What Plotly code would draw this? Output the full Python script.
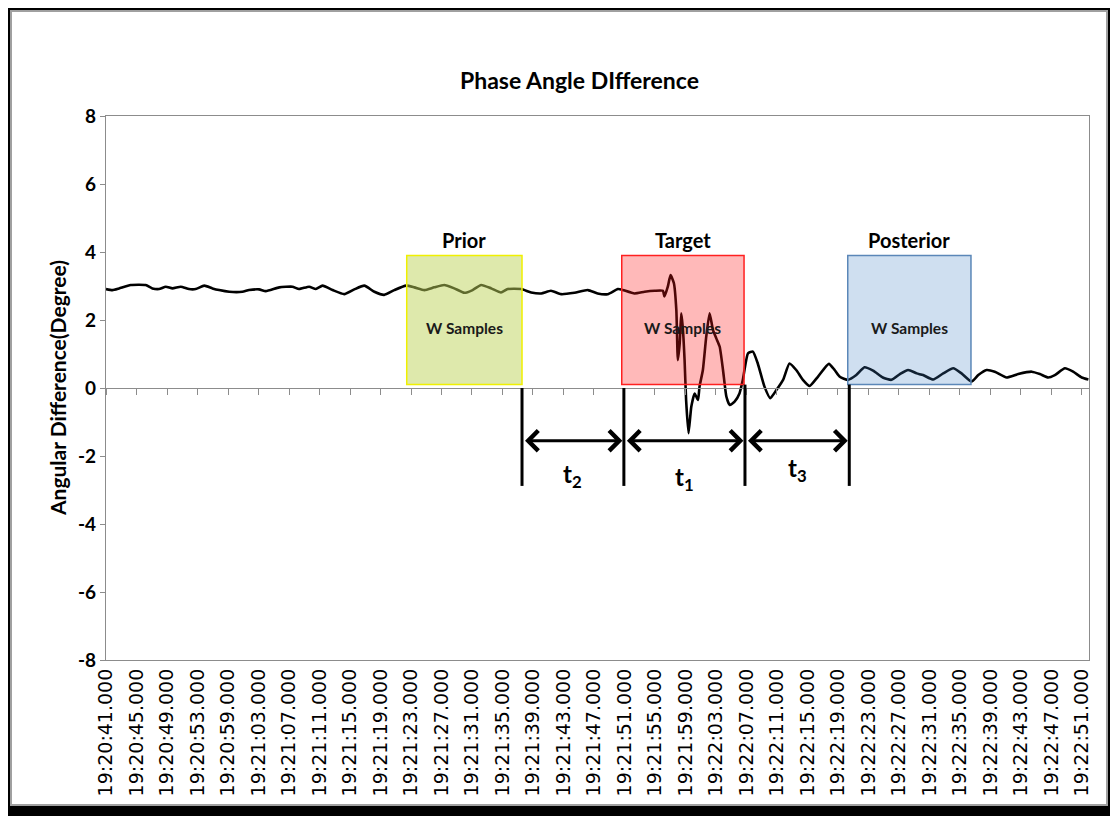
import plotly.graph_objects as go

# ---------------- data ----------------
time_labels = ["19:20:41.000", "19:20:45.000", "19:20:49.000", "19:20:53.000", "19:20:59.000",
               "19:21:03.000", "19:21:07.000", "19:21:11.000", "19:21:15.000", "19:21:19.000",
               "19:21:23.000", "19:21:27.000", "19:21:31.000", "19:21:35.000", "19:21:39.000",
               "19:21:43.000", "19:21:47.000", "19:21:51.000", "19:21:55.000", "19:21:59.000",
               "19:22:03.000", "19:22:07.000", "19:22:11.000", "19:22:15.000", "19:22:19.000",
               "19:22:23.000", "19:22:27.000", "19:22:31.000", "19:22:35.000", "19:22:39.000",
               "19:22:43.000", "19:22:47.000", "19:22:51.000"]
label_pos = list(range(len(time_labels)))

y_tick_vals = [-8, -6, -4, -2, 0, 2, 4, 6, 8]
y_tick_text = ["-8", "-6", "-4", "-2", "0", "2", "4", "6", "8"]

# sample position (in label-interval units) and phase angle difference (degrees)
sample_pos = [0.00, 0.21, 0.43, 0.81, 1.30, 1.52, 1.74, 1.96, 2.18, 2.45, 2.72, 2.94, 3.22, 3.49,
              3.71, 4.04, 4.47, 4.69, 5.02, 5.24, 5.68, 6.11, 6.33, 6.66, 6.88, 7.10, 7.43, 7.81,
              8.14, 8.47, 8.80, 9.12, 9.45, 9.84, 10.11, 10.44, 10.76, 11.09, 11.42, 11.75, 12.02,
              12.30, 12.63, 12.95, 13.17, 13.61, 13.94, 14.27, 14.59, 14.92, 15.36, 15.80, 16.12,
              16.45, 16.78, 16.89, 17.33, 17.66, 17.99, 18.26, 18.31, 18.42, 18.51, 18.62, 18.70,
              18.75, 18.81, 18.86, 18.91, 18.97, 19.02, 19.10, 19.19, 19.30, 19.41, 19.46, 19.57,
              19.68, 19.79, 19.90, 20.01, 20.12, 20.23, 20.34, 20.45, 20.61, 20.77, 20.88, 21.05,
              21.21, 21.37, 21.59, 21.78, 21.98, 22.20, 22.41, 22.63, 22.85, 23.07, 23.34, 23.70,
              23.89, 24.06, 24.33, 24.60, 24.87, 25.15, 25.47, 25.75, 26.03, 26.30, 26.58, 26.79,
              27.12, 27.45, 27.78, 28.05, 28.38, 28.60, 28.87, 29.14, 29.53, 29.91, 30.35, 30.62,
              30.89, 31.11, 31.44, 31.71, 31.99, 32.21]
angle_deg = [2.91, 2.88, 2.93, 3.03, 3.03, 2.93, 2.91, 2.98, 2.93, 2.98, 2.91, 2.91, 3.01, 2.93,
             2.88, 2.83, 2.83, 2.88, 2.90, 2.85, 2.96, 2.98, 2.91, 2.98, 2.91, 3.01, 2.88, 2.76,
             2.90, 3.01, 2.83, 2.74, 2.88, 3.01, 2.96, 2.88, 2.96, 3.03, 2.93, 2.80, 2.88,
             3.03, 2.93, 2.81, 2.91, 2.91, 2.81, 2.78, 2.86, 2.76, 2.80, 2.88, 2.78,
             2.76, 2.91, 2.90, 2.78, 2.83, 2.86, 2.86, 2.69, 2.98, 3.32, 3.08, 2.29,
             0.82, 1.31, 2.20, 1.80, 0.82, -0.35, -1.33, -0.55, -0.16, -0.35, 0.04, 0.53,
             1.51, 2.20, 1.71, 1.46, 1.22, 0.53, -0.25, -0.50, -0.40, -0.16, 0.24, 1.02,
             1.07, 0.72, 0.04, -0.30, -0.06, 0.24, 0.72, 0.53, 0.24, 0.06, 0.33, 0.71,
             0.53, 0.33, 0.24, 0.38, 0.61, 0.51, 0.31, 0.24, 0.41, 0.53, 0.43, 0.38,
             0.25, 0.43, 0.58, 0.43, 0.19, 0.38, 0.53, 0.48, 0.31, 0.41, 0.48, 0.41,
             0.31, 0.38, 0.58, 0.48, 0.31, 0.25]

# sampling windows
window_names = ["Prior", "Target", "Posterior"]
window_start = [9.86, 16.91, 24.32]
window_end = [13.64, 20.92, 28.36]
window_bottom = [0.1, 0.1, 0.1]
window_top = [3.9, 3.9, 3.9]
window_fill = ["rgba(190,212,90,0.5)", "rgba(255,22,22,0.3)", "rgba(63,127,195,0.25)"]
window_edge = ["#f0f000", "#ff2020", "#5b87b8"]
window_text = ["W Samples", "W Samples", "W Samples"]

# interval markers and labels
marker_pos = [13.64, 16.98, 20.95, 24.37]
marker_top = [0.0, 0.0, 0.1, 0.1]
marker_bottom = -2.88
arrow_y = -1.55
interval_names = ["t<sub>2</sub>", "t<sub>1</sub>", "t<sub>3</sub>"]
interval_label_y = [-2.56, -2.65, -2.41]

# ---------------- figure ----------------
BOLD = "Lato"
W, H = 1110, 808
ML, MR, MT, MB = 98, 29, 108, 156
PW, PH = W - ML - MR, H - MT - MB


def px(xl):
    return (xl - ML) / PW


def py(yl):
    return (H - MB - yl) / PH


fig = go.Figure()
fig.add_trace(go.Scatter(x=sample_pos, y=angle_deg, mode="lines",
                         line=dict(color="black", width=2.6, shape="spline", smoothing=0.5),
                         hoverinfo="skip", showlegend=False))
# helper trace for the mid (zero) category axis
fig.add_trace(go.Scatter(x=[label_pos[0]], y=[0], xaxis="x2", mode="markers",
                         marker=dict(opacity=0), hoverinfo="skip", showlegend=False))

x_range = [0, 32.23]
fig.update_layout(
    width=W, height=H,
    margin=dict(l=ML, r=MR, t=MT, b=MB),
    paper_bgcolor="white", plot_bgcolor="white",
    xaxis=dict(range=x_range, tickmode="array", tickvals=label_pos, ticktext=time_labels,
               tickangle=-90, ticks="", showgrid=False, zeroline=False,
               showline=True, linecolor="#8c8c8c", linewidth=1.3, mirror=True,
               tickfont=dict(family="DejaVu Sans", size=19, color="black")),
    xaxis2=dict(range=x_range, overlaying="x", anchor="free", position=0.5,
                tickmode="array", tickvals=label_pos, showticklabels=False,
                ticks="outside", ticklen=6, tickcolor="#8c8c8c", tickwidth=1.3,
                showline=True, linecolor="#8c8c8c", linewidth=1.3,
                showgrid=False, zeroline=False),
    yaxis=dict(range=[-8, 8], tickmode="array", tickvals=y_tick_vals, ticktext=y_tick_text,
               ticks="outside", ticklen=5,
               tickcolor="#8c8c8c", showgrid=False, zeroline=False,
               showline=True, linecolor="#8c8c8c", linewidth=1.3, mirror=True,
               tickfont=dict(family=BOLD, size=19, color="black", weight="bold")),
)

shapes = []
annotations = []
for i, name in enumerate(window_names):
    shapes.append(dict(type="rect", xref="x", yref="y", x0=window_start[i], x1=window_end[i],
                       y0=window_bottom[i], y1=window_top[i], fillcolor=window_fill[i],
                       line=dict(color=window_edge[i], width=1.5), layer="above"))
    cx = (window_start[i] + window_end[i]) / 2
    annotations.append(dict(x=cx, y=window_top[i] + 0.45, xref="x", yref="y",
                            text="<b>%s</b>" % name, showarrow=False,
                            font=dict(family=BOLD, size=20, color="black")))
    annotations.append(dict(x=cx, y=1.76, xref="x", yref="y", text="<b>%s</b>" % window_text[i],
                            showarrow=False, font=dict(family=BOLD, size=15.5, color="#1a1a1a")))

for j, xm in enumerate(marker_pos):
    shapes.append(dict(type="line", xref="x", yref="y", x0=xm, x1=xm, y0=marker_top[j],
                       y1=marker_bottom, line=dict(color="black", width=3), layer="above"))

for k in range(len(interval_names)):
    a, b = marker_pos[k], marker_pos[k + 1]
    annotations.append(dict(x=b - 0.05, y=arrow_y, ax=a + 0.05, ay=arrow_y, xref="x", yref="y",
                            axref="x", ayref="y", showarrow=True, arrowhead=4, startarrowhead=4,
                            arrowside="end+start", arrowsize=1.3, startarrowsize=1.3,
                            arrowwidth=3, arrowcolor="black", text=""))
    annotations.append(dict(x=(a + b) / 2, y=interval_label_y[k], xref="x", yref="y",
                            text="<b>%s</b>" % interval_names[k], showarrow=False,
                            font=dict(family=BOLD, size=24, color="black")))

# title and y title
annotations.append(dict(x=px(571), y=py(72), xref="paper", yref="paper",
                        xanchor="center", yanchor="middle",
                        text="<b>Phase Angle DIfference</b>", showarrow=False,
                        font=dict(family=BOLD, size=23, color="black")))
annotations.append(dict(x=px(49), y=0.5, xref="paper", yref="paper", textangle=-90,
                        xanchor="center", yanchor="middle",
                        text="<b>Angular Difference(Degree)</b>", showarrow=False,
                        font=dict(family=BOLD, size=21, color="black")))

# outer chart frame
shapes.append(dict(type="rect", xref="paper", yref="paper",
                   x0=px(-3), x1=px(W - 5), y0=py(H - 5), y1=py(-3),
                   line=dict(color="black", width=10), fillcolor="rgba(0,0,0,0)"))
shapes.append(dict(type="rect", xref="paper", yref="paper",
                   x0=px(3), x1=px(W - 11), y0=py(H - 11), y1=py(3),
                   line=dict(color="#a0a0a0", width=2), fillcolor="rgba(0,0,0,0)"))

fig.update_layout(shapes=shapes, annotations=annotations)
fig.write_html("out.html")
